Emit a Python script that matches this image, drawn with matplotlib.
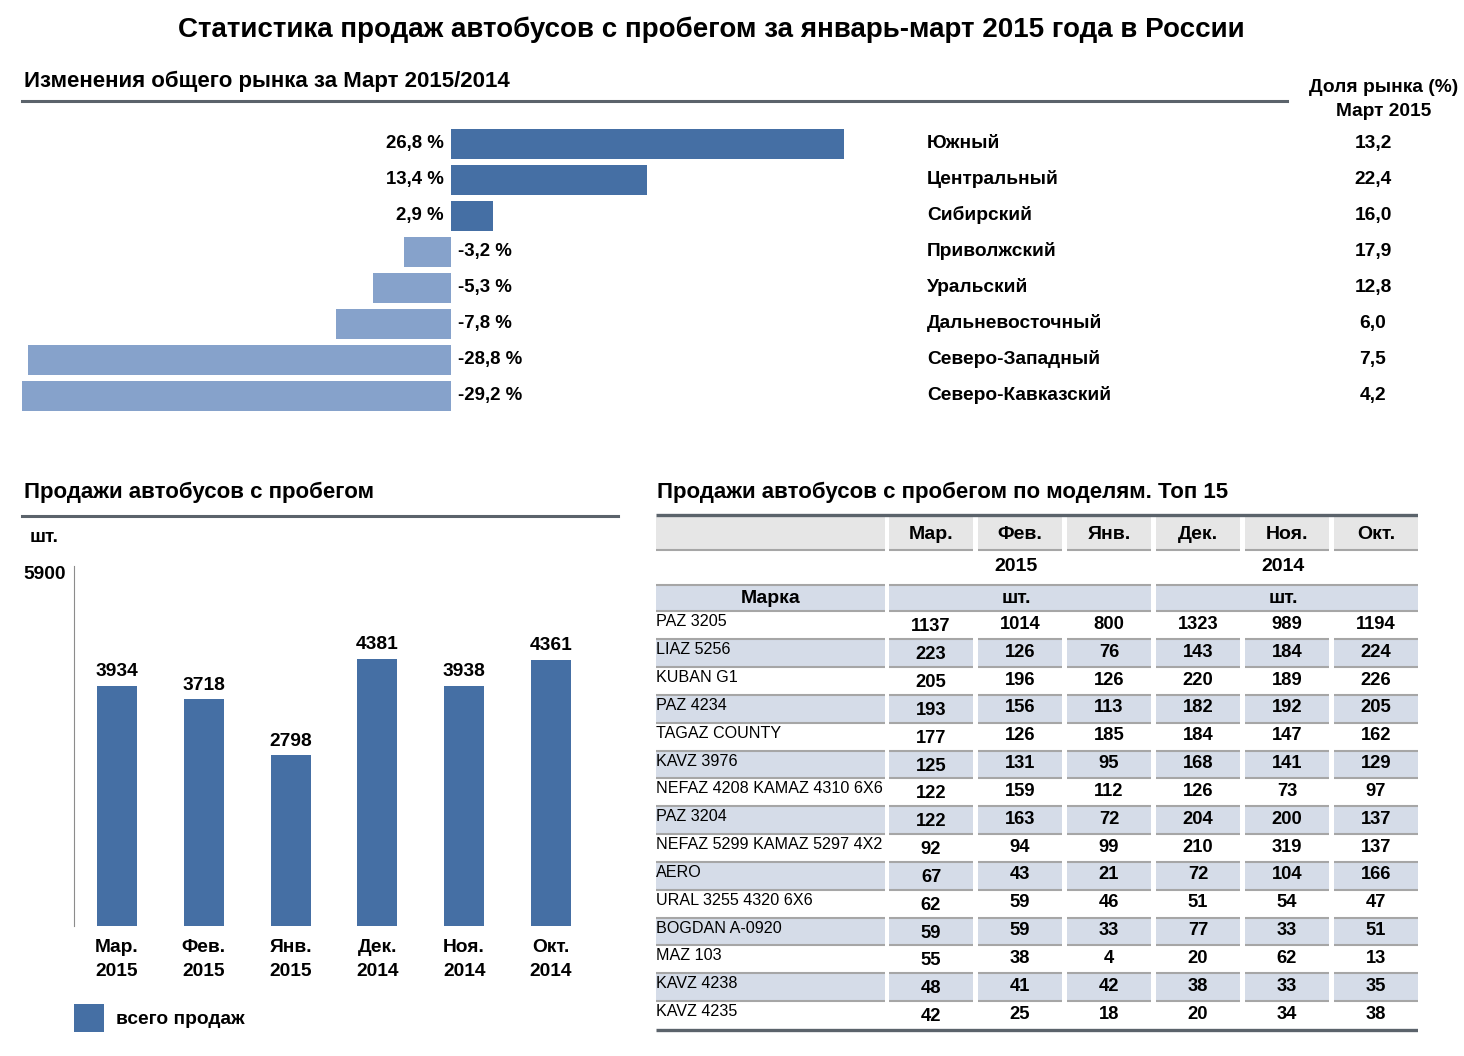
import matplotlib
matplotlib.use('Agg')
import matplotlib.pyplot as plt
import matplotlib.transforms as mtransforms
from matplotlib.lines import Line2D
from matplotlib.patches import Rectangle

plt.rcParams['font.family'] = ['Liberation Sans', 'DejaVu Sans']
plt.rcParams['font.weight'] = 'bold'

# --- market change by region, March 2015/2014
regions = ['Южный', 'Центральный', 'Сибирский', 'Приволжский', 'Уральский',
           'Дальневосточный', 'Северо-Западный', 'Северо-Кавказский']
change_pct = [26.8, 13.4, 2.9, -3.2, -5.3, -7.8, -28.8, -29.2]
share_pct = [13.2, 22.4, 16.0, 17.9, 12.8, 6.0, 7.5, 4.2]

# --- total used bus sales by month
months = ['Мар.\n2015', 'Фев.\n2015', 'Янв.\n2015', 'Дек.\n2014', 'Ноя.\n2014', 'Окт.\n2014']
total_sales = [3934, 3718, 2798, 4381, 3938, 4361]

# --- top 15 models
table_cols = ['Мар.', 'Фев.', 'Янв.', 'Дек.', 'Ноя.', 'Окт.']
models = ['PAZ 3205', 'LIAZ 5256', 'KUBAN G1', 'PAZ 4234', 'TAGAZ COUNTY', 'KAVZ 3976',
          'NEFAZ 4208 KAMAZ 4310 6X6', 'PAZ 3204', 'NEFAZ 5299 KAMAZ 5297 4X2', 'AERO',
          'URAL 3255 4320 6X6', 'BOGDAN A-0920', 'MAZ 103', 'KAVZ 4238', 'KAVZ 4235']
sales_mar = [1137, 223, 205, 193, 177, 125, 122, 122, 92, 67, 62, 59, 55, 48, 42]
sales_feb = [1014, 126, 196, 156, 126, 131, 159, 163, 94, 43, 59, 59, 38, 41, 25]
sales_jan = [800, 76, 126, 113, 185, 95, 112, 72, 99, 21, 46, 33, 4, 42, 18]
sales_dec = [1323, 143, 220, 182, 184, 168, 126, 204, 210, 72, 51, 77, 20, 38, 20]
sales_nov = [989, 184, 189, 192, 147, 141, 73, 200, 319, 104, 54, 33, 62, 33, 34]
sales_oct = [1194, 224, 226, 205, 162, 129, 97, 137, 137, 166, 47, 51, 13, 35, 38]

W, H = 1464, 1056
DARK = '#456fa4'
LIGHT = '#86a2cb'
RULE = '#5b636b'
CELL_GRAY = '#e6e6e6'
CELL_BLUE = '#d5dce8'
LINE_GRAY = '#a6a6a6'
FS = 13.8  # body text size

fig = plt.figure(figsize=(W / 100, H / 100), dpi=100)


def box(l, t, r, b):
    return [l / W, 1 - b / H, (r - l) / W, (b - t) / H]


def fx(px):
    return px / W


def fy(py):
    return 1 - py / H


def rule(x0, x1, y, lw=2.2):
    fig.add_artist(Line2D([fx(x0), fx(x1)], [fy(y), fy(y)], color=RULE, lw=lw))


def fmt(v):
    return f'{v:.1f}'.replace('.', ',')


fig.text(fx(711), fy(30), 'Статистика продаж автобусов с пробегом за январь-март 2015 года в России',
         ha='center', va='center', fontsize=20)

# ---------------- top: change by region
fig.text(fx(24), fy(81), 'Изменения общего рынка за Март 2015/2014', ha='left', va='center', fontsize=16)
rule(22, 1287, 101)

ax1 = fig.add_axes(box(15, 120, 870, 420))
ypos = range(len(regions))
colors = [DARK if v > 0 else LIGHT for v in change_pct]
ax1.barh(ypos, change_pct, height=0.86, color=colors)
ax1.set_xlim(-29.7, 28.6)
ax1.set_ylim(len(regions) - 0.333, -0.667)
ax1.axis('off')
for i, v in enumerate(change_pct):
    ax1.annotate(fmt(v) + ' %', (0, i), xytext=(-5 if v > 0 else 5, 0.5), textcoords='offset points',
                 ha='right' if v > 0 else 'left', va='center', fontsize=13.4)

trans = mtransforms.blended_transform_factory(fig.transFigure, ax1.transData)
for i, (r, s) in enumerate(zip(regions, share_pct)):
    ax1.text(fx(927), i - 0.02, r, transform=trans, ha='left', va='center', fontsize=FS, clip_on=False)
    ax1.text(fx(1373), i - 0.02, fmt(s), transform=trans, ha='center', va='center', fontsize=FS,
             clip_on=False)
fig.text(fx(1384), fy(87), 'Доля рынка (%)', ha='center', va='center', fontsize=FS)
fig.text(fx(1384), fy(112), 'Март 2015', ha='center', va='center', fontsize=FS)

# ---------------- bottom left: total sales
fig.text(fx(24), fy(492), 'Продажи автобусов с пробегом', ha='left', va='center', fontsize=16)
rule(22, 618, 516)
fig.text(fx(30), fy(538), 'шт.', ha='left', va='center', fontsize=FS)

ax2 = fig.add_axes(box(74, 566, 600, 926))
xpos = range(len(months))
bars = ax2.bar(xpos, total_sales, width=0.46, color=DARK, label='всего продаж')
ax2.set_xlim(-0.495, 5.565)
ax2.set_ylim(0, 5900)
for s in ['top', 'right', 'bottom']:
    ax2.spines[s].set_visible(False)
ax2.spines['left'].set_color('#8c8c8c')
ax2.set_yticks([5900])
ax2.set_yticklabels(['5900'], va='top')
ax2.tick_params(axis='y', length=0, pad=6, labelsize=FS)
ax2.set_xticks(list(xpos))
ax2.set_xticklabels(months, linespacing=1.55)
ax2.tick_params(axis='x', length=0, pad=9.5, labelsize=FS)
for b, v in zip(bars, total_sales):
    ax2.annotate(str(v), (b.get_x() + b.get_width() / 2, v), xytext=(0, 4), textcoords='offset points',
                 ha='center', va='bottom', fontsize=FS)
fig.legend(handles=[bars], labels=['всего продаж'], loc='center left', bbox_to_anchor=(fx(74), fy(1018)),
           frameon=False, borderpad=0, borderaxespad=0, handlelength=1.55, handleheight=1.9,
           handletextpad=0.62, prop={'size': FS, 'weight': 'bold'})

# ---------------- bottom right: top-15 table
fig.text(fx(657), fy(492), 'Продажи автобусов с пробегом по моделям. Топ 15', ha='left', va='center',
         fontsize=16)

ax3 = fig.add_axes(box(656, 505, 1418, 1035))
ax3.set_xlim(0, 762)
ax3.set_ylim(530, 0)
ax3.axis('off')

NAME_W, COL0, COL_STEP, COL_W = 229, 233, 89, 84
ROW0, ROW_H = 106.5, 27.83
LW = 1.5


def col_span(k):
    return COL0 + COL_STEP * k, COL0 + COL_STEP * k + COL_W


def cell(x0, x1, y0, y1, color, top=False, bottom=True):
    ax3.add_patch(Rectangle((x0, y0), x1 - x0, y1 - y0, color=color, lw=0))
    if top:
        ax3.plot([x0, x1], [y0, y0], color=LINE_GRAY, lw=LW, solid_capstyle='butt')
    if bottom:
        ax3.plot([x0, x1], [y1, y1], color=LINE_GRAY, lw=LW, solid_capstyle='butt')


ax3.plot([0, 762], [10.5, 10.5], color=RULE, lw=2.4, solid_capstyle='butt')

# header row with month names
cell(0, NAME_W, 12, 45, CELL_GRAY)
for k, name in enumerate(table_cols):
    x0, x1 = col_span(k)
    cell(x0, x1, 12, 45, CELL_GRAY)
    ax3.text((x0 + x1) / 2, 29.5, name, ha='center', va='center', fontsize=14)

# year row + unit row (merged groups)
groups = [(0, 2, '2015'), (3, 5, '2014')]
cell(0, NAME_W, 80, ROW0, CELL_BLUE, top=True)
ax3.text(NAME_W / 2, 93.5, 'Марка', ha='center', va='center', fontsize=14)
for k0, k1, year in groups:
    x0, x1 = col_span(k0)[0], col_span(k1)[1]
    ax3.text((x0 + x1) / 2 - 4, 62, year, ha='center', va='center', fontsize=14)
    cell(x0, x1, 80, ROW0, CELL_BLUE, top=True)
    ax3.text((x0 + x1) / 2 - 4, 93.5, 'шт.', ha='center', va='center', fontsize=14)

# data rows
series = [sales_mar, sales_feb, sales_jan, sales_dec, sales_nov, sales_oct]
for i, model in enumerate(models):
    y0 = ROW0 + ROW_H * i
    y1 = y0 + ROW_H
    yc = (y0 + y1) / 2
    if i % 2 == 1:
        cell(0, NAME_W, y0, y1, CELL_BLUE, top=True)
        for k in range(len(series)):
            cell(*col_span(k), y0, y1, CELL_BLUE, top=True)
    ax3.text(0, yc - 3.5, model, ha='left', va='center', fontsize=11.6, fontweight='normal')
    for k, s in enumerate(series):
        x0, x1 = col_span(k)
        ax3.text((x0 + x1) / 2, yc + (1.5 if k == 0 else -1), str(s[i]), ha='center', va='center',
                 fontsize=13.2)

ax3.plot([0, 762], [ROW0 + ROW_H * len(models) + 1.5] * 2, color=RULE, lw=2.4, solid_capstyle='butt')

fig.savefig('out.png', dpi=100)
